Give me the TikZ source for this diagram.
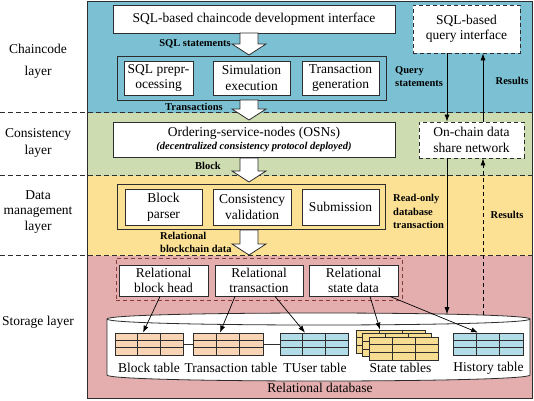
\documentclass[tikz,border=0pt]{standalone}
\usepackage{fontspec}
\setmainfont{Liberation Serif}
\usetikzlibrary{arrows.meta,calc}
\definecolor{bandblue}{RGB}{124,193,211}
\definecolor{bandgreen}{RGB}{206,220,178}
\definecolor{bandyellow}{RGB}{252,224,148}
\definecolor{bandpink}{RGB}{228,174,174}
\definecolor{linegray}{RGB}{45,45,45}
\definecolor{grpred}{RGB}{130,60,60}
\definecolor{tblorange}{RGB}{250,213,181}
\definecolor{tblblue}{RGB}{178,220,232}
\definecolor{tblyellow}{RGB}{247,221,145}
\newcommand\mainsz{\fontsize{13.5}{15.5}\selectfont}
\newcommand\boldsz{\fontsize{10.5}{13}\selectfont\bfseries}
\newcommand\hollowdown[3]{\draw[harrow] (#1-9,#2) -- (#1+9,#2) -- (#1+9,#3-11) -- (#1+17,#3-11) -- (#1,#3) -- (#1-17,#3-11) -- (#1-9,#3-11) -- cycle;}
\newcommand\tgrid[1]{\draw[linegray, line width=0.7pt]
 ($(#1.north west)!1/3!(#1.north east)$) -- ($(#1.south west)!1/3!(#1.south east)$)
 ($(#1.north west)!2/3!(#1.north east)$) -- ($(#1.south west)!2/3!(#1.south east)$)
 ($(#1.north west)!1/3!(#1.south west)$) -- ($(#1.north east)!1/3!(#1.south east)$)
 ($(#1.north west)!2/3!(#1.south west)$) -- ($(#1.north east)!2/3!(#1.south east)$);}
\begin{document}
\begin{tikzpicture}[x=1pt,y=-1pt,
  box/.style={draw=linegray, fill=white, line width=0.8pt, align=center, inner sep=0pt, font=\mainsz},
  grp/.style={draw=linegray, line width=0.8pt, inner sep=0pt},
  dbox/.style={draw=linegray, fill=white, line width=0.8pt, dash pattern=on 4pt off 3pt, align=center, inner sep=0pt, font=\mainsz},
  lbl/.style={font=\boldsz, align=left, inner sep=0pt},
  layerlbl/.style={font=\mainsz, align=center, inner sep=0pt},
  arr/.style={-{Latex[length=7pt,width=5pt]}, draw=black, line width=0.7pt},
  harrow/.style={draw=linegray, fill=white, line width=0.8pt, line join=miter},
  tbl/.style={draw=linegray, line width=0.8pt, minimum width=68pt, minimum height=22pt, inner sep=0pt},
  tlbl/.style={font=\mainsz, inner sep=0pt},
  layerline/.style={draw=linegray, line width=0.8pt, dash pattern=on 5pt off 3pt}]
\useasboundingbox (0,0) rectangle (534,400);
% bands
\fill[bandblue] (87.5,1.5) rectangle (532.5,112.5);
\fill[bandgreen] (87.5,112.5) rectangle (532.5,175.5);
\fill[bandyellow] (87.5,175.5) rectangle (532.5,255.5);
\fill[bandpink] (87.5,255.5) rectangle (532.5,398);
\draw[layerline] (0,112.5) -- (532.5,112.5);
\draw[layerline] (0,175.5) -- (532.5,175.5);
\draw[layerline] (0,255.5) -- (532.5,255.5);
\draw[linegray, line width=0.9pt] (87.5,1.5) rectangle (532.5,398);
% layer labels
\node[layerlbl, font=\fontsize{13.5}{22}\selectfont] (l1) at (38,61) {Chaincode\\layer};
\node[layerlbl, font=\fontsize{13.5}{17}\selectfont] (l2) at (38,143) {Consistency\\layer};
\node[layerlbl, font=\fontsize{13.5}{15.5}\selectfont] (l3) at (38,212) {Data\\management\\layer};
\node[layerlbl] (l4) at (38,322) {Storage layer};
% chaincode layer
\node[box, minimum width=282, minimum height=28] (dev) at (254,19) {SQL-based chaincode development interface};
\node[grp, minimum width=269, minimum height=44] (grp1) at (251.5,78) {};
\node[box, minimum width=69, minimum height=34] (prep) at (158.5,78) {SQL prepr-\\ocessing};
\node[box, minimum width=77, minimum height=34] (sim) at (251.5,78) {Simulation\\execution};
\node[box, minimum width=77, minimum height=34] (gen) at (340.5,78) {Transaction\\generation};
\node[lbl, anchor=east] (sqlst) at (231,44) {SQL statements};
\node[lbl, anchor=east] (txs) at (223,107) {Transactions};
% consistency layer
\node[box, minimum width=282, minimum height=35] (osn) at (254,139.5) {Ordering-service-nodes (OSNs)\\[-2pt]{\boldsz\itshape (decentralized consistency protocol deployed)}};
\node[lbl, anchor=east] (blk) at (221,166) {Block};
% data management layer
\node[grp, minimum width=268, minimum height=45] (grp2) at (251,206.5) {};
\node[box, minimum width=77, minimum height=36] (parser) at (163.5,207) {Block\\parser};
\node[box, minimum width=78, minimum height=36] (valid) at (252,207) {Consistency\\validation};
\node[box, minimum width=77, minimum height=36] (submit) at (340.5,207) {Submission};
\node[lbl, anchor=west] (rbd) at (160,242) {Relational\\blockchain data};
% hollow arrows
\hollowdown{249}{33}{55}
\hollowdown{249}{100}{120}
\hollowdown{249}{158}{182}
\hollowdown{249}{230}{255}
% storage group
\node[grp, draw=grpred, dash pattern=on 4pt off 3pt, minimum width=286, minimum height=42] (grp3) at (259,279) {};
\node[box, minimum width=89, minimum height=31] (rbh) at (163.5,280.5) {Relational\\block head};
\node[box, minimum width=88, minimum height=31] (rtx) at (259,280.5) {Relational\\transaction};
\node[box, minimum width=89, minimum height=31] (rsd) at (353.5,280.5) {Relational\\state data};
% cylinder
\draw[linegray, fill=white, line width=0.8pt] (107,319) -- (107,375) .. controls (107,383) and (530,383) .. (530,375) -- (530,319) .. controls (530,311) and (107,311) .. (107,319) -- cycle;
\draw[linegray, line width=0.8pt] (107,319) .. controls (107,327) and (530,327) .. (530,319);
\coordinate (dbq) at (447,314.2);
\coordinate (dbr) at (483,315.2);
% tables
\node[tbl, fill=tblorange] (tblk) at (149,344) {};
\node[tbl, fill=tblorange, minimum width=70] (ttx) at (228,344) {};
\node[tbl, fill=tblblue] (ttu) at (314,344) {};
\node[tbl, fill=tblblue, minimum width=70] (thist) at (488,344) {};
\node[tbl, fill=tblyellow, minimum width=69, minimum height=23] (st3) at (390.5,341.5) {};
\tgrid{st3}
\node[tbl, fill=tblyellow, minimum width=69, minimum height=23] (st2) at (397,345) {};
\tgrid{st2}
\node[tbl, fill=tblyellow, minimum width=69, minimum height=23] (st1) at (403.5,348.5) {};
\tgrid{st1}
\tgrid{tblk}\tgrid{ttx}\tgrid{ttu}\tgrid{thist}
\draw[linegray, line width=0.8pt] (tblk.east) -- (ttx.west);
\draw[linegray, line width=0.8pt] (ttx.east) -- (ttu.west);
\node[tlbl] (lblk) at (149,368) {Block table};
\node[tlbl] (ltx) at (231,368) {Transaction table};
\node[tlbl] (ltu) at (315,368) {TUser table};
\node[tlbl] (lst) at (400.5,368) {State tables};
\node[tlbl] (lhist) at (488.5,368) {History table};
\node[tlbl] (ldb) at (320,388) {Relational database};
% storage arrows
\draw[arr] ([xshift=-3.5pt]rbh.south) -- ([xshift=-6pt]tblk.north);
\draw[arr] ([xshift=-24pt]rtx.south) -- ([xshift=-8pt]ttx.north);
\draw[arr] ([xshift=16pt]rtx.south) -- ([xshift=-9pt]ttu.north);
\draw[arr] ([xshift=16.5pt]rsd.south) -- ([xshift=-10.5pt]st3.north);
\draw[arr] ([xshift=36.5pt]rsd.south) -- ([xshift=-10pt]thist.north);
% right side
\node[dbox, minimum width=107, minimum height=48] (query) at (466.5,29) {SQL-based\\query interface};
\node[dbox, minimum width=105, minimum height=36] (chain) at (471.5,140) {On-chain data\\share network};
\draw[arr] (query.south -| dbq) -- (chain.north -| dbq);
\draw[arr] (chain.north -| dbr) -- (query.south -| dbr);
\draw[arr] (chain.south -| dbq) -- (dbq);
\draw[arr, dash pattern=on 4pt off 3pt] (dbr) -- (chain.south -| dbr);
\node[lbl, anchor=west] (qst) at (395,77) {Query\\statements};
\node[lbl] (res1) at (512,81) {Results};
\node[lbl, anchor=west, font=\fontsize{10.5}{13.5}\selectfont\bfseries] (rodb) at (393,211.5) {Read-only\\database\\transaction};
\node[lbl] (res2) at (507,215) {Results};
\end{tikzpicture}
\end{document}
